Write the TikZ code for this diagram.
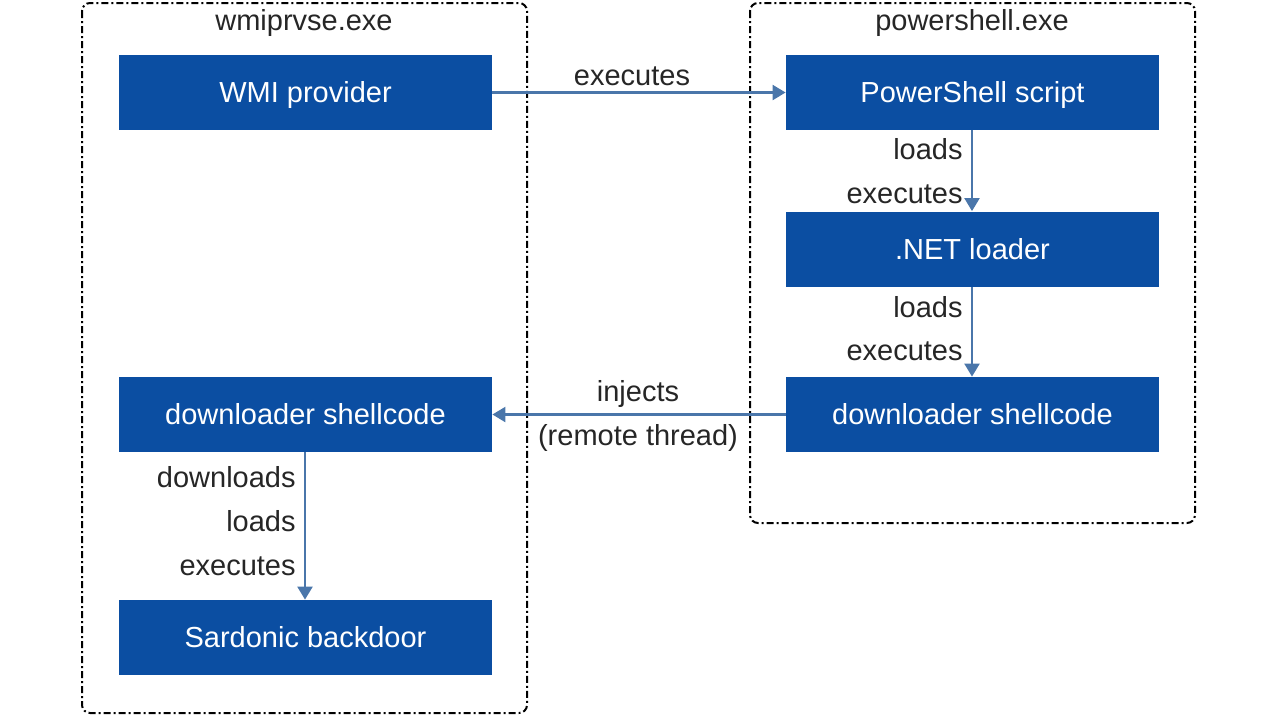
\documentclass[tikz,border=0pt]{standalone}
\usepackage{fontspec}
\setmainfont{Liberation Sans}
\usetikzlibrary{arrows.meta}
\definecolor{boxblue}{HTML}{0B4EA2}
\definecolor{arrowblue}{HTML}{4A76AA}
\begin{document}
\begin{tikzpicture}[x=0.5pt,y=-0.5pt,
  proc/.style={draw=black,line width=1pt,rounded corners=4pt,dash pattern=on 3.5pt off 1.5pt on 1pt off 1.5pt},
  blk/.style={fill=boxblue,draw=none,text=white,minimum width=186.5pt,minimum height=37.5pt,inner sep=0pt,text height=13.4pt,text depth=3pt,font=\fontsize{14.5}{17}\selectfont},
  lbl/.style={font=\fontsize{14.5}{17}\selectfont,text=black!85,inner sep=0pt},
  conn/.style={draw=arrowblue,line width=1.1pt,-{Triangle[length=6.5pt,width=7.5pt]}}]
\useasboundingbox (0,0) rectangle (1280,720);
% containers
\draw[proc] (82,3) rectangle (527,713);
\draw[proc] (750,3) rectangle (1195,523);
\node[lbl] (t1) at (304,23) {wmiprvse.exe};
\node[lbl] (t2) at (972,23) {powershell.exe};
% boxes
\node[blk] (wmi) at (305.5,92.5) {WMI provider};
\node[blk] (ps) at (972.5,92.5) {PowerShell script};
\node[blk] (net) at (972.5,249) {.NET loader};
\node[blk] (dr) at (972.5,414.5) {downloader shellcode};
\node[blk] (dl) at (305.5,414.5) {downloader shellcode};
\node[blk] (sar) at (305.5,637.5) {Sardonic backdoor};
% connectors
\draw[conn] (wmi.east) -- (ps.west);
\node[lbl] (l1) at (632,76) {executes};
\draw[conn] (ps.south -| 972,0) -- (net.north -| 972,0);
\node[lbl,anchor=east] (l2) at (963,149) {loads};
\node[lbl,anchor=east] (l3) at (963,194) {executes};
\draw[conn] (net.south -| 972,0) -- (dr.north -| 972,0);
\node[lbl,anchor=east] (l4) at (963,307) {loads};
\node[lbl,anchor=east] (l5) at (963,351) {executes};
\draw[conn] (dr.west) -- (dl.east);
\node[lbl] (l6) at (638,394) {injects};
\node[lbl] (l7) at (638,438) {(remote thread)};
\draw[conn] (dl.south -| 305,0) -- (sar.north -| 305,0);
\node[lbl,anchor=east] (l8) at (296,477) {downloads};
\node[lbl,anchor=east] (l9) at (296,521) {loads};
\node[lbl,anchor=east] (l10) at (296,566) {executes};
\end{tikzpicture}
\end{document}
